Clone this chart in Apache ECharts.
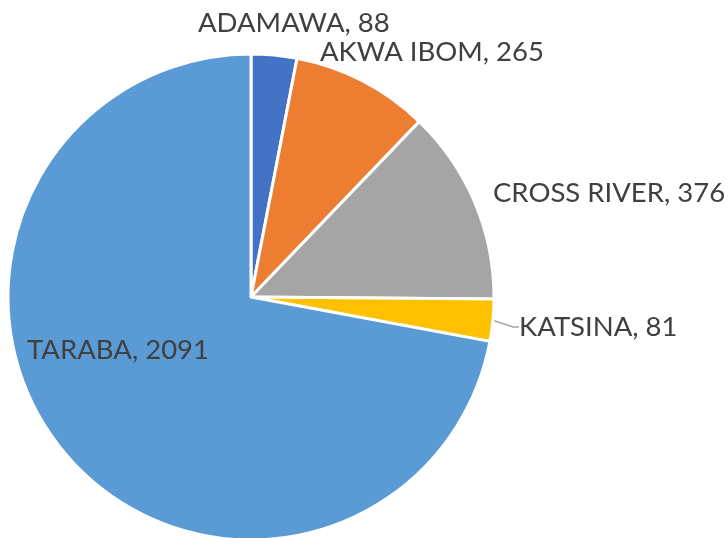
<!DOCTYPE html>
<html>
<head>
<meta charset="utf-8">
<script src="https://cdn.jsdelivr.net/npm/echarts@6/dist/echarts.min.js"></script>
<style>
html,body{margin:0;padding:0;background:#fff;}
#main{width:728px;height:538px;}
</style>
</head>
<body>
<div id="main"></div>
<script>
var states = ['ADAMAWA', 'AKWA IBOM', 'CROSS RIVER', 'KATSINA', 'TARABA'];
var counts = [88, 265, 376, 81, 2091];
var colors = ['#4472C4', '#ED7D31', '#A5A5A5', '#FFC000', '#5B9BD5'];
// where each label's text sits (left edge, middle)
var labelSpots = [[198, 23], [320, 52], [493, 193], [519, 327], [27, 350]];

var chart = echarts.init(document.getElementById('main'));

var data = states.map(function (s, i) {
    var item = { name: s, value: counts[i], itemStyle: { color: colors[i] } };
    if (s !== 'KATSINA') {
        item.labelLine = { show: false };
    }
    return item;
});

var option = {
    animation: false,
    series: [
        {
            type: 'pie',
            center: [251, 297],
            radius: 243,
            startAngle: 90,
            clockwise: true,
            avoidLabelOverlap: false,
            itemStyle: { borderColor: '#fff', borderWidth: 3 },
            label: {
                show: true,
                position: 'outside',
                formatter: '{b}, {c}',
                fontFamily: 'Lato',
                fontSize: 27.5,
                color: '#404040'
            },
            labelLine: {
                show: true,
                length: 6,
                length2: 6,
                lineStyle: { color: '#A6A6A6', width: 1.5 }
            },
            labelLayout: function (params) {
                var p = labelSpots[params.dataIndex];
                return { x: p[0], y: p[1], align: 'left', verticalAlign: 'middle', hideOverlap: false };
            },
            data: data
        }
    ]
};
chart.setOption(option);
</script>
</body>
</html>
